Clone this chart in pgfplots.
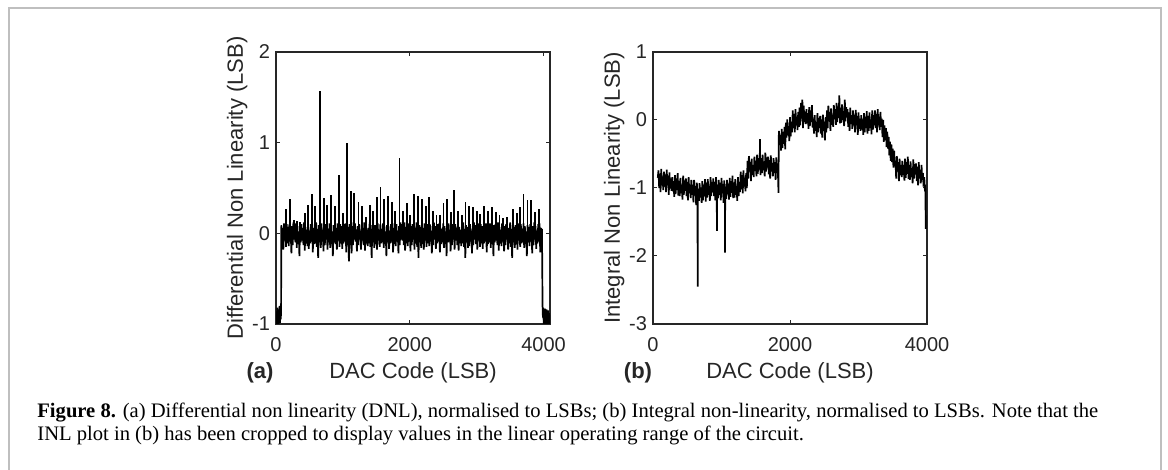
\documentclass[border=0pt]{standalone}
\usepackage{pgfplots}
\pgfplotsset{compat=1.18}
\usepackage{fontspec}
\setmainfont{Liberation Serif}
\newfontfamily\plotfont{Liberation Sans}
\definecolor{axgray}{HTML}{262626}
\pgfplotsset{mstyle/.style={
  scale only axis, width=137pt, height=136pt,
  axis line style={draw=axgray, line width=0.6pt},
  tick style={draw=axgray, line width=0.5pt},
  major tick length=2pt, tick align=inside,
  /pgf/number format/assume math mode=true,
  /pgf/number format/1000 sep={},
  ticklabel style={font=\plotfont\fontsize{10}{12}\selectfont, text=axgray},
  label style={font=\plotfont\fontsize{11}{13}\selectfont, text=axgray},
  xlabel style={at={(axis description cs:0.5,-0.18)}, anchor=center},
  ylabel style={at={(axis description cs:-0.142,0.5)}, anchor=center},
  xticklabel style={yshift=-3pt},
  yticklabel style={xshift=0.5pt},
  xtick={0,2000,4000},
}}
\tikzset{dline/.style={draw=black, line width=0.85pt, mark=none}}
\begin{document}
\begin{tikzpicture}
\path[use as bounding box] (0,0) rectangle (584pt,-235pt);
\draw[black!25, line width=1pt] (4.5pt,-235pt) -- (4.5pt,-3.9pt) -- (580.7pt,-3.9pt) -- (580.7pt,-235pt);

% (a) DNL
\begin{axis}[mstyle, at={(138pt,-26pt)}, anchor=north west,
  xmin=0, xmax=4096, ymin=-1, ymax=2, ytick={-1,0,1,2},
  xlabel={DAC Code (LSB)}, ylabel={Differential Non Linearity (LSB)}]
\addplot[dline] coordinates {
(0,-0.97)(6,-0.86)(12,-1.0)(18,-0.82)(24,-0.98)(30,-0.88)(36,-1.0)(42,-0.84)(48,-0.96)(54,-0.80)(60,-0.99)(66,-0.87)(72,-0.95)(76,-0.82)
(80,0.09)(90,-0.12)(100,0.06)(110,-0.18)(120,0.11)(130,-0.08)(140,0.04)(150,-0.15)(160,0.10)(170,-0.11)
(180,0.07)(190,-0.14)(200,0.10)(210,-0.09)(220,0.03)(230,-0.22)(240,0.08)(250,-0.13)(260,0.12)(270,-0.07)
(280,0.05)(290,-0.10)(300,0.11)(310,-0.16)(320,0.08)(330,-0.12)(340,0.02)(350,-0.25)(360,0.09)(370,-0.10)
(380,0.10)(390,-0.08)(400,0.06)(410,-0.13)(420,0.12)(430,-0.19)(440,0.07)(450,-0.11)(460,0.04)(470,-0.14)
(480,0.08)(490,-0.17)(500,0.03)(510,-0.11)(520,0.10)(530,-0.09)(540,0.11)(550,-0.21)(560,0.06)(570,-0.12)
(580,0.06)(590,-0.11)(600,0.12)(610,-0.15)(620,0.05)(630,-0.27)(640,0.09)(650,-0.10)(660,0.07)(670,-0.16)
(680,0.11)(690,-0.09)(700,0.04)(710,-0.20)(720,0.08)(730,-0.13)(740,0.10)(750,-0.07)(760,0.03)(770,-0.18)
(780,0.05)(790,-0.10)(800,0.11)(810,-0.16)(820,0.08)(830,-0.12)(840,0.02)(850,-0.25)(860,0.09)(870,-0.10)
(880,0.09)(890,-0.12)(900,0.06)(910,-0.18)(920,0.11)(930,-0.08)(940,0.04)(950,-0.15)(960,0.10)(970,-0.11)
(980,0.08)(990,-0.17)(1000,0.03)(1010,-0.11)(1020,0.10)(1030,-0.09)(1040,0.11)(1050,-0.21)(1060,0.06)(1070,-0.12)
(1080,0.07)(1090,-0.31)(1100,0.10)(1110,-0.09)(1120,0.03)(1130,-0.22)(1140,0.08)(1150,-0.13)(1160,0.12)(1170,-0.07)
(1180,0.11)(1190,-0.09)(1200,0.04)(1210,-0.20)(1220,0.08)(1230,-0.13)(1240,0.10)(1250,-0.07)(1260,0.03)(1270,-0.18)
(1280,0.10)(1290,-0.08)(1300,0.06)(1310,-0.13)(1320,0.12)(1330,-0.19)(1340,0.07)(1350,-0.11)(1360,0.04)(1370,-0.14)
(1380,0.06)(1390,-0.11)(1400,0.12)(1410,-0.15)(1420,0.05)(1430,-0.27)(1440,0.09)(1450,-0.10)(1460,0.07)(1470,-0.16)
(1480,0.09)(1490,-0.12)(1500,0.06)(1510,-0.18)(1520,0.11)(1530,-0.08)(1540,0.04)(1550,-0.15)(1560,0.10)(1570,-0.11)
(1580,0.05)(1590,-0.10)(1600,0.11)(1610,-0.16)(1620,0.08)(1630,-0.12)(1640,0.02)(1650,-0.25)(1660,0.09)(1670,-0.10)
(1680,0.08)(1690,-0.17)(1700,0.03)(1710,-0.11)(1720,0.10)(1730,-0.09)(1740,0.11)(1750,-0.21)(1760,0.06)(1770,-0.12)
(1780,0.07)(1790,-0.14)(1800,0.10)(1810,-0.09)(1820,0.03)(1830,-0.22)(1840,0.08)(1850,-0.13)(1860,0.12)(1870,-0.07)
(1880,0.10)(1890,-0.08)(1900,0.06)(1910,-0.13)(1920,0.12)(1930,-0.19)(1940,0.07)(1950,-0.11)(1960,0.04)(1970,-0.14)
(1980,0.11)(1990,-0.09)(2000,0.04)(2010,-0.20)(2020,0.08)(2030,-0.13)(2040,0.10)(2050,-0.07)(2060,0.03)(2070,-0.18)
(2080,0.06)(2090,-0.11)(2100,0.12)(2110,-0.15)(2120,0.05)(2130,-0.27)(2140,0.09)(2150,-0.10)(2160,0.07)(2170,-0.16)
(2180,0.09)(2190,-0.12)(2200,0.06)(2210,-0.18)(2220,0.11)(2230,-0.08)(2240,0.04)(2250,-0.15)(2260,0.10)(2270,-0.11)
(2280,0.07)(2290,-0.14)(2300,0.10)(2310,-0.09)(2320,0.03)(2330,-0.22)(2340,0.08)(2350,-0.13)(2360,0.12)(2370,-0.07)
(2380,0.08)(2390,-0.17)(2400,0.03)(2410,-0.11)(2420,0.10)(2430,-0.09)(2440,0.11)(2450,-0.21)(2460,0.06)(2470,-0.12)
(2480,0.05)(2490,-0.10)(2500,0.11)(2510,-0.16)(2520,0.08)(2530,-0.12)(2540,0.02)(2550,-0.25)(2560,0.09)(2570,-0.10)
(2580,0.11)(2590,-0.09)(2600,0.04)(2610,-0.20)(2620,0.08)(2630,-0.13)(2640,0.10)(2650,-0.07)(2660,0.03)(2670,-0.18)
(2680,0.10)(2690,-0.08)(2700,0.06)(2710,-0.13)(2720,0.12)(2730,-0.19)(2740,0.07)(2750,-0.11)(2760,0.04)(2770,-0.14)
(2780,0.06)(2790,-0.11)(2800,0.12)(2810,-0.15)(2820,0.05)(2830,-0.27)(2840,0.09)(2850,-0.10)(2860,0.07)(2870,-0.16)
(2880,0.07)(2890,-0.14)(2900,0.10)(2910,-0.09)(2920,0.03)(2930,-0.22)(2940,0.08)(2950,-0.13)(2960,0.12)(2970,-0.07)
(2980,0.09)(2990,-0.12)(3000,0.06)(3010,-0.18)(3020,0.11)(3030,-0.08)(3040,0.04)(3050,-0.15)(3060,0.10)(3070,-0.11)
(3080,0.08)(3090,-0.17)(3100,0.03)(3110,-0.11)(3120,0.10)(3130,-0.09)(3140,0.11)(3150,-0.21)(3160,0.06)(3170,-0.12)
(3180,0.05)(3190,-0.10)(3200,0.11)(3210,-0.16)(3220,0.08)(3230,-0.12)(3240,0.02)(3250,-0.25)(3260,0.09)(3270,-0.10)
(3280,0.10)(3290,-0.08)(3300,0.06)(3310,-0.13)(3320,0.12)(3330,-0.19)(3340,0.07)(3350,-0.11)(3360,0.04)(3370,-0.14)
(3380,0.11)(3390,-0.09)(3400,0.04)(3410,-0.20)(3420,0.08)(3430,-0.13)(3440,0.10)(3450,-0.07)(3460,0.03)(3470,-0.18)
(3480,0.06)(3490,-0.11)(3500,0.12)(3510,-0.15)(3520,0.05)(3530,-0.27)(3540,0.09)(3550,-0.10)(3560,0.07)(3570,-0.16)
(3580,0.09)(3590,-0.12)(3600,0.06)(3610,-0.18)(3620,0.11)(3630,-0.08)(3640,0.04)(3650,-0.15)(3660,0.10)(3670,-0.11)
(3680,0.05)(3690,-0.10)(3700,0.11)(3710,-0.16)(3720,0.08)(3730,-0.12)(3740,0.02)(3750,-0.25)(3760,0.09)(3770,-0.10)
(3780,0.07)(3790,-0.14)(3800,0.10)(3810,-0.09)(3820,0.03)(3830,-0.22)(3840,0.08)(3850,-0.13)(3860,0.12)(3870,-0.07)
(3880,0.08)(3890,-0.17)(3900,0.03)(3910,-0.11)(3920,0.10)(3930,-0.09)(3940,0.11)(3950,-0.21)(3960,0.06)(3970,-0.12)
(3975,0.05)(3980,-0.32)(3984,-0.78)(3990,-0.93)(3996,-0.82)(4002,-1.0)(4008,-0.86)(4014,-0.97)(4020,-0.83)(4026,-1.0)
(4032,-0.88)(4038,-0.98)(4044,-0.84)(4050,-1.0)(4056,-0.87)(4062,-0.97)(4068,-0.85)(4074,-1.0)(4080,-0.88)(4086,-0.98)(4092,-0.9)(4096,-1.0)
};
\addplot[dline, ycomb] coordinates {
(150,0.27)(209,0.38)(274,0.15)(309,0.14)(359,0.13)(433,0.22)(483,0.31)(538,0.43)(588,0.30)(658,1.57)
(718,0.39)(763,0.31)(817,0.42)(877,0.30)(937,0.64)(997,0.22)(1057,1.0)(1116,0.47)(1171,0.44)(1231,0.35)
(1290,0.30)(1345,0.18)(1405,0.31)(1455,0.25)(1505,0.40)(1560,0.51)(1615,0.38)(1674,0.41)(1729,0.35)(1784,0.25)
(1844,0.83)(1894,0.25)(1954,0.33)(2008,0.20)(2063,0.43)(2118,0.41)(2178,0.38)(2238,0.30)(2283,0.40)(2343,0.25)
(2398,0.20)(2452,0.20)(2502,0.33)(2557,0.38)(2612,0.24)(2662,0.48)(2722,0.25)(2776,0.20)(2831,0.35)(2881,0.30)
(2941,0.29)(3000,0.25)(3050,0.21)(3110,0.30)(3170,0.25)(3225,0.29)(3285,0.24)(3339,0.20)(3389,0.17)(3449,0.18)
(3539,0.27)(3599,0.22)(3648,0.29)(3698,0.43)(3758,0.37)(3813,0.37)(3867,0.24)(3927,0.27)
};
\end{axis}

% (b) INL
\begin{axis}[mstyle, at={(326.5pt,-26pt)}, anchor=north west,
  xmin=0, xmax=4000, ymin=-3, ymax=1, ytick={-3,-2,-1,0,1},
  xlabel={DAC Code (LSB)}, ylabel={Integral Non Linearity (LSB)}]
\addplot[dline] coordinates {
(70,-0.85)
(80,-0.74)(90,-1.00)(100,-0.79)(110,-1.06)(120,-0.72)(130,-0.96)(140,-0.83)(150,-1.03)(160,-0.76)(170,-0.98)
(180,-0.80)(190,-1.06)(200,-0.73)(210,-0.96)(220,-0.82)(230,-1.10)(240,-0.77)(250,-1.01)(260,-0.86)(270,-1.04)
(280,-0.84)(290,-1.05)(300,-0.90)(310,-1.13)(320,-0.81)(330,-1.09)(340,-0.86)(350,-1.03)(360,-0.78)(370,-1.11)
(380,-0.90)(390,-1.12)(400,-0.85)(410,-1.08)(420,-0.95)(430,-1.17)(440,-0.82)(450,-1.10)(460,-0.89)(470,-1.04)
(480,-0.86)(490,-1.12)(500,-0.91)(510,-1.18)(520,-0.84)(530,-1.08)(540,-0.95)(550,-1.15)(560,-0.88)(570,-1.10)
(580,-0.95)(590,-1.21)(600,-0.88)(610,-1.11)(620,-0.97)(630,-1.25)(640,-0.92)(650,-1.16)(652,-2.45)(655,-1.10)(660,-1.01)(670,-1.19)
(680,-0.93)(690,-1.14)(700,-0.99)(710,-1.22)(720,-0.90)(730,-1.18)(740,-0.95)(750,-1.12)(760,-0.87)(770,-1.20)
(780,-0.92)(790,-1.14)(800,-0.87)(810,-1.10)(820,-0.97)(830,-1.19)(840,-0.84)(850,-1.12)(860,-0.91)(870,-1.06)
(880,-0.86)(890,-1.12)(900,-0.91)(910,-1.18)(920,-0.84)(930,-1.08)(934,-1.63)(937,-1.05)(940,-0.95)(950,-1.15)(960,-0.88)(970,-1.10)
(980,-0.92)(990,-1.18)(1000,-0.85)(1010,-1.08)(1020,-0.94)(1030,-1.22)(1040,-0.89)(1050,-1.13)(1051,-1.95)(1054,-1.10)(1060,-0.98)(1070,-1.16)
(1080,-0.88)(1090,-1.09)(1100,-0.94)(1110,-1.17)(1120,-0.85)(1130,-1.13)(1140,-0.90)(1150,-1.07)(1160,-0.82)(1170,-1.15)
(1180,-0.92)(1190,-1.14)(1200,-0.87)(1210,-1.10)(1220,-0.97)(1230,-1.19)(1240,-0.84)(1250,-1.12)(1260,-0.91)(1270,-1.06)
(1280,-0.76)(1290,-1.02)(1300,-0.81)(1310,-1.08)(1320,-0.74)(1330,-0.98)(1340,-0.85)(1350,-1.05)(1360,-0.78)(1370,-1.00)
(1380,-0.60)(1390,-0.86)(1400,-0.53)(1410,-0.76)(1420,-0.62)(1430,-0.90)(1440,-0.57)(1450,-0.81)(1460,-0.66)(1470,-0.84)
(1480,-0.54)(1490,-0.75)(1500,-0.60)(1510,-0.83)(1520,-0.51)(1530,-0.79)(1540,-0.56)(1550,-0.73)(1560,-0.48)(1562,-0.28)(1565,-0.70)(1570,-0.81)
(1580,-0.56)(1590,-0.78)(1600,-0.51)(1610,-0.74)(1620,-0.61)(1630,-0.83)(1640,-0.48)(1650,-0.76)(1660,-0.55)(1670,-0.70)
(1680,-0.54)(1690,-0.80)(1700,-0.59)(1710,-0.86)(1720,-0.52)(1730,-0.76)(1740,-0.63)(1750,-0.83)(1760,-0.56)(1770,-0.78)
(1780,-0.62)(1790,-0.88)(1800,-0.55)(1810,-0.78)(1820,-0.64)(1828,-0.92)(1832,-1.07)(1836,-0.25)
(1840,-0.16)(1850,-0.37)(1860,-0.22)(1870,-0.45)(1880,-0.13)(1890,-0.41)(1900,-0.18)(1910,-0.35)(1920,-0.10)(1930,-0.43)
(1940,-0.04)(1950,-0.26)(1960,0.01)(1970,-0.22)(1980,-0.09)(1990,-0.31)(2000,0.04)(2010,-0.24)(2020,-0.03)(2030,-0.18)
(2040,0.14)(2050,-0.12)(2060,0.09)(2070,-0.18)(2080,0.16)(2090,-0.08)(2100,0.05)(2110,-0.15)(2120,0.12)(2130,-0.10)
(2140,0.18)(2150,-0.08)(2160,0.25)(2170,0.02)(2180,0.30)(2190,-0.12)(2200,0.21)(2210,-0.03)(2220,0.12)(2230,-0.06)
(2240,0.16)(2250,-0.05)(2260,0.10)(2270,-0.13)(2280,0.19)(2290,-0.09)(2300,0.14)(2310,-0.03)(2320,0.22)(2330,-0.11)
(2340,0.02)(2350,-0.20)(2360,0.07)(2370,-0.16)(2380,-0.03)(2390,-0.25)(2400,0.10)(2410,-0.18)(2420,0.03)(2430,-0.12)
(2440,0.06)(2450,-0.20)(2460,0.01)(2470,-0.26)(2480,0.08)(2490,-0.16)(2500,-0.03)(2510,-0.30)(2520,0.04)(2530,-0.18)
(2540,0.14)(2550,-0.12)(2560,0.21)(2570,-0.02)(2580,0.12)(2590,-0.16)(2600,0.17)(2610,-0.07)(2620,0.08)(2630,-0.10)
(2640,0.22)(2650,0.01)(2660,0.16)(2670,-0.07)(2680,0.25)(2690,-0.03)(2700,0.20)(2710,0.03)(2720,0.36)(2730,-0.05)
(2740,0.18)(2750,-0.04)(2760,0.23)(2770,0.00)(2780,0.13)(2790,-0.09)(2800,0.30)(2810,-0.02)(2820,0.19)(2830,0.04)
(2840,0.16)(2850,-0.10)(2860,0.11)(2870,-0.16)(2880,0.18)(2890,-0.06)(2900,0.07)(2910,-0.13)(2920,0.14)(2930,-0.08)
(2940,0.08)(2950,-0.18)(2960,0.15)(2970,-0.08)(2980,0.06)(2990,-0.22)(3000,0.11)(3010,-0.13)(3020,0.02)(3030,-0.16)
(3040,0.07)(3050,-0.14)(3060,0.01)(3070,-0.22)(3080,0.10)(3090,-0.18)(3100,0.05)(3110,-0.12)(3120,0.13)(3130,-0.20)
(3140,0.06)(3150,-0.16)(3160,0.11)(3170,-0.12)(3180,0.01)(3190,-0.21)(3200,0.14)(3210,-0.14)(3220,0.07)(3230,-0.08)
(3240,0.14)(3250,-0.12)(3260,0.09)(3270,-0.18)(3280,0.16)(3290,-0.08)(3300,0.05)(3310,-0.15)(3320,0.12)(3330,-0.10)
(3340,0.02)(3350,-0.25)(3360,0.00)(3370,-0.32)(3380,-0.08)(3390,-0.30)(3400,-0.12)(3410,-0.40)(3420,-0.17)(3430,-0.42)
(3440,-0.25)(3450,-0.52)(3460,-0.32)(3470,-0.60)(3480,-0.36)(3490,-0.62)(3500,-0.42)(3510,-0.70)(3520,-0.45)(3530,-0.68)
(3540,-0.60)(3550,-0.86)(3560,-0.53)(3570,-0.76)(3580,-0.62)(3590,-0.90)(3600,-0.57)(3610,-0.81)(3620,-0.66)(3630,-0.84)
(3640,-0.60)(3650,-0.81)(3660,-0.66)(3670,-0.89)(3680,-0.57)(3690,-0.85)(3700,-0.62)(3710,-0.79)(3720,-0.54)(3730,-0.87)
(3740,-0.66)(3750,-0.88)(3760,-0.61)(3770,-0.84)(3780,-0.71)(3790,-0.93)(3800,-0.58)(3810,-0.86)(3820,-0.65)(3830,-0.80)
(3840,-0.64)(3850,-0.90)(3860,-0.69)(3870,-0.96)(3880,-0.62)(3890,-0.86)(3900,-0.73)(3910,-0.93)(3920,-0.66)(3930,-0.88)
(3940,-0.78)(3950,-0.98)(3960,-0.84)(3970,-1.05)(3976,-0.95)(3982,-1.6)
};
\end{axis}

\node[font=\plotfont\bfseries\fontsize{11}{13}\selectfont, text=axgray] at (130pt,-186.5pt) {(a)};
\node[font=\plotfont\bfseries\fontsize{11}{13}\selectfont, text=axgray] at (319pt,-186.5pt) {(b)};

\node[anchor=base west, inner sep=0pt, font=\fontsize{10.3}{12}\selectfont] at (18.5pt,-208.5pt)
 {\textbf{Figure 8.} (a) Differential non linearity (DNL), normalised to LSBs; (b) Integral non-linearity, normalised to LSBs. Note that the};
\node[anchor=base west, inner sep=0pt, font=\fontsize{10.3}{12}\selectfont] at (18.5pt,-220pt)
 {INL plot in (b) has been cropped to display values in the linear operating range of the circuit.};
\end{tikzpicture}
\end{document}
